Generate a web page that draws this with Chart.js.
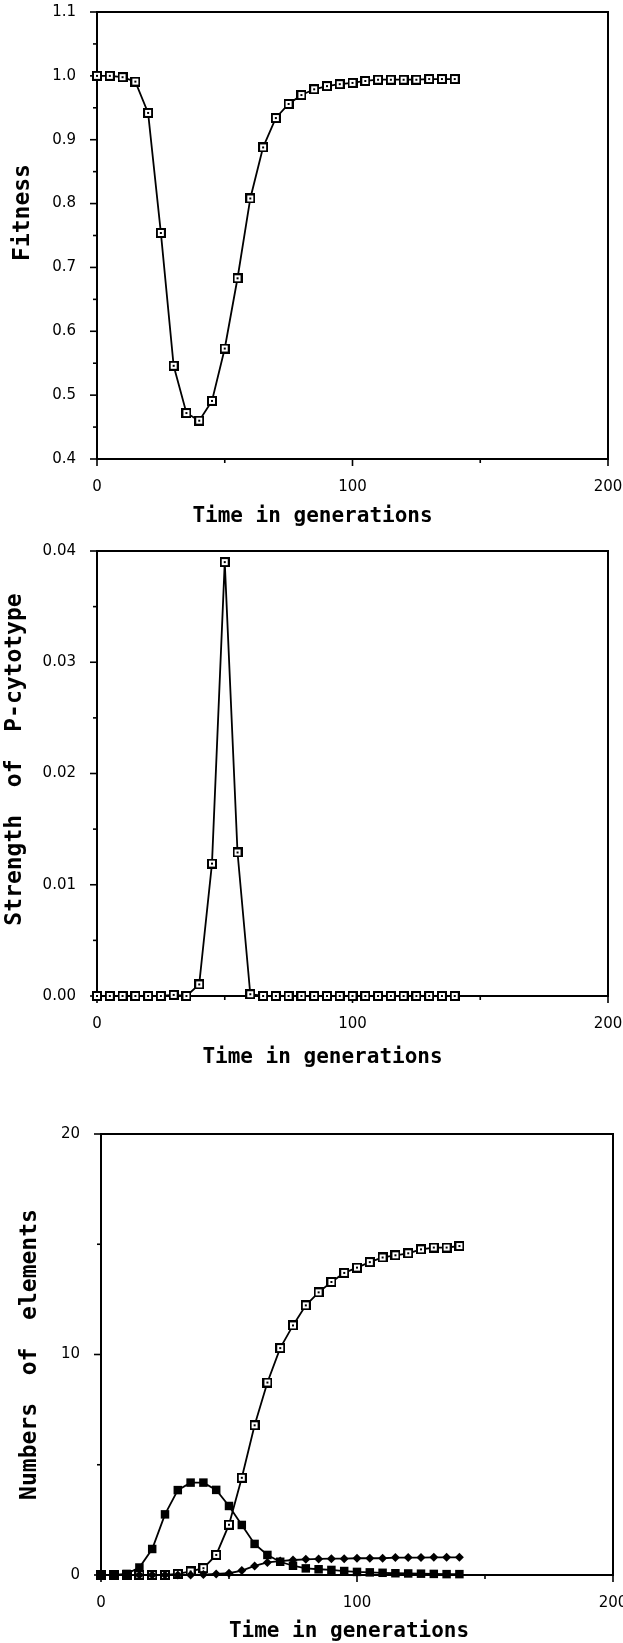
<!DOCTYPE html>
<html>
<head>
<meta charset="utf-8">
<script src="https://cdn.jsdelivr.net/npm/chart.js@4.4.1/dist/chart.umd.min.js"></script>
<style>
  html, body { margin: 0; padding: 0; background: #fff; }
  #page { position: relative; width: 623px; height: 1643px; }
  canvas { position: absolute; left: 0; }
</style>
</head>
<body>
<div id="page">
  <canvas id="fitnessChart" width="623" height="540" style="top:0px"></canvas>
  <canvas id="strengthChart" width="623" height="545" style="top:540px"></canvas>
  <canvas id="elementsChart" width="623" height="558" style="top:1085px"></canvas>
</div>
<script>
// generations sampled every 5
var generations = [0, 5, 10, 15, 20, 25, 30, 35, 40, 45, 50, 55, 60, 65, 70,
  75, 80, 85, 90, 95, 100, 105, 110, 115, 120, 125, 130, 135, 140];

var fitness = [1.000, 1.000, 0.998, 0.991, 0.942, 0.754, 0.546, 0.472, 0.460,
  0.491, 0.573, 0.683, 0.808, 0.888, 0.934, 0.956, 0.970, 0.979, 0.984, 0.987,
  0.989, 0.992, 0.994, 0.994, 0.994, 0.994, 0.995, 0.995, 0.995];

var pStrength = [0, 0, 0, 0, 0, 0, 0.0001, 0, 0.00104, 0.0119, 0.039, 0.0129,
  0.00016, 0, 0, 0, 0, 0, 0, 0, 0, 0, 0, 0, 0, 0, 0, 0, 0];

// panel 3 : open squares, filled squares, diamonds
var elementsOpen = [0, 0, 0, 0, 0, 0, 0.05, 0.16, 0.31, 0.91, 2.28, 4.41,
  6.79, 8.73, 10.29, 11.32, 12.23, 12.82, 13.29, 13.70, 13.94, 14.19, 14.40,
  14.50, 14.59, 14.77, 14.85, 14.85, 14.92];
var elementsFilled = [0, 0, 0.05, 0.34, 1.18, 2.75, 3.85, 4.19, 4.19, 3.86,
  3.13, 2.27, 1.41, 0.91, 0.6, 0.42, 0.3, 0.26, 0.23, 0.18, 0.14, 0.12, 0.1,
  0.08, 0.07, 0.06, 0.05, 0.04, 0.04];
var elementsDiamond = [0, 0, 0, 0, 0, 0, 0, 0, 0.02, 0.05, 0.08, 0.2, 0.41,
  0.57, 0.63, 0.68, 0.71, 0.73, 0.74, 0.74, 0.76, 0.76, 0.76, 0.79, 0.79, 0.79,
  0.8, 0.8, 0.8];

var xTickLabels = [0, 100, 200];

Chart.defaults.font.family = "'DejaVu Sans', sans-serif";
Chart.defaults.color = "#000";

function pairs(values) {
  return generations.map(function (g, i) { return { x: g, y: values[i] }; });
}

// open square with a dot in the middle
var openSquare = document.createElement("canvas");
openSquare.width = 10;
openSquare.height = 10;
(function () {
  var c = openSquare.getContext("2d");
  c.fillStyle = "#fff";
  c.fillRect(0, 0, 10, 10);
  c.strokeStyle = "#000";
  c.lineWidth = 2;
  c.strokeRect(1, 1, 8, 8);
  c.fillStyle = "#000";
  c.fillRect(4, 4, 2, 2);
})();

// frame around the plot + outward tick marks
var axisFrame = {
  id: "axisFrame",
  beforeDatasetsDraw: function (chart) {
    var ctx = chart.ctx;
    var a = chart.chartArea;
    var xs = chart.scales.x;
    var ys = chart.scales.y;
    ctx.save();
    ctx.strokeStyle = "#000";
    ctx.lineWidth = 2;
    ctx.strokeRect(a.left, a.top, a.right - a.left, a.bottom - a.top);
    ctx.lineWidth = 1.6;
    xs.ticks.forEach(function (t) {
      var px = xs.getPixelForValue(t.value);
      var len = t.label !== "" ? 7 : 4;
      ctx.beginPath();
      ctx.moveTo(px, a.bottom);
      ctx.lineTo(px, a.bottom + len);
      ctx.stroke();
    });
    ys.ticks.forEach(function (t) {
      var py = ys.getPixelForValue(t.value);
      var len = t.label !== "" ? 7 : 4;
      ctx.beginPath();
      ctx.moveTo(a.left, py);
      ctx.lineTo(a.left - len, py);
      ctx.stroke();
    });
    ctx.restore();
  }
};

// axis titles (the original figure does not centre them on the plot)
var axisTitles = {
  id: "axisTitles",
  afterDraw: function (chart, args, opts) {
    var ctx = chart.ctx;
    var a = chart.chartArea;
    ctx.save();
    ctx.fillStyle = "#000";
    ctx.textAlign = "center";
    ctx.textBaseline = "middle";
    ctx.font = "bold 21px 'DejaVu Sans Mono', monospace";
    ctx.fillText(opts.xText, (a.left + a.right) / 2 + opts.xShift, opts.xTitleY);
    ctx.font = "bold 23px 'DejaVu Sans Mono', monospace";
    ctx.translate(opts.yTitleX, (a.top + a.bottom) / 2 + opts.yShift);
    ctx.rotate(-Math.PI / 2);
    ctx.fillText(opts.yText, 0, 0);
    ctx.restore();
  }
};

function makeOptions(cfg) {
  return {
    responsive: false,
    animation: false,
    layout: { padding: { top: cfg.padTop, right: cfg.padRight, left: 0, bottom: 0 } },
    plugins: {
      legend: { display: false },
      tooltip: { enabled: false },
      axisTitles: cfg.titles
    },
    scales: {
      x: {
        type: "linear",
        min: 0,
        max: 200,
        grid: { display: false },
        border: { display: false },
        afterFit: function (s) {
          s.height = cfg.xHeight;
          s.paddingLeft = 0;
          s.paddingRight = 0;
        },
        ticks: {
          stepSize: 50,
          padding: 11,
          maxRotation: 0,
          font: { size: 15 },
          callback: function (v) { return xTickLabels.indexOf(v) >= 0 ? String(v) : ""; }
        }
      },
      y: {
        min: cfg.yMin,
        max: cfg.yMax,
        grid: { display: false },
        border: { display: false },
        afterFit: function (s) {
          s.width = cfg.yWidth;
          s.paddingTop = 0;
          s.paddingBottom = 0;
        },
        afterBuildTicks: function (s) {
          s.ticks = cfg.yTicks.map(function (v) { return { value: v }; });
        },
        ticks: {
          padding: 13,
          font: { size: 15 },
          callback: cfg.yLabel
        }
      }
    }
  };
}

function lineSet(values, style, radius) {
  return {
    data: pairs(values),
    borderColor: "#000",
    borderWidth: 1.8,
    backgroundColor: "#000",
    pointStyle: style,
    pointRadius: radius,
    pointBorderColor: "#000",
    pointBackgroundColor: "#000",
    pointBorderWidth: 0,
    tension: 0,
    clip: false
  };
}

// Fitness
var fitnessTicks = [0.4, 0.45, 0.5, 0.55, 0.6, 0.65, 0.7, 0.75, 0.8, 0.85, 0.9, 0.95, 1.0, 1.05, 1.1];
new Chart(document.getElementById("fitnessChart"), {
  type: "line",
  data: { datasets: [lineSet(fitness, openSquare, 5)] },
  options: makeOptions({
    padTop: 12, padRight: 15, xHeight: 81, yWidth: 97,
    yMin: 0.4, yMax: 1.1, yTicks: fitnessTicks,
    yLabel: function (v) { return Math.round(v * 100) % 10 === 0 ? v.toFixed(1) : ""; },
    titles: { xText: "Time in generations", xShift: -40, xTitleY: 517,
              yText: "Fitness", yTitleX: 23, yShift: -23 }
  }),
  plugins: [axisFrame, axisTitles]
});

// Strength of P-cytotype
var strengthTicks = [0, 0.005, 0.01, 0.015, 0.02, 0.025, 0.03, 0.035, 0.04];
new Chart(document.getElementById("strengthChart"), {
  type: "line",
  data: { datasets: [lineSet(pStrength, openSquare, 5)] },
  options: makeOptions({
    padTop: 11, padRight: 15, xHeight: 89, yWidth: 97,
    yMin: 0, yMax: 0.04, yTicks: strengthTicks,
    yLabel: function (v) { return Math.round(v * 1000) % 10 === 0 ? v.toFixed(2) : ""; },
    titles: { xText: "Time in generations", xShift: -30, xTitleY: 518,
              yText: "Strength  of  P-cytotype", yTitleX: 15, yShift: -14 }
  }),
  plugins: [axisFrame, axisTitles]
});

// Numbers of elements
var elementTicks = [0, 5, 10, 15, 20];
new Chart(document.getElementById("elementsChart"), {
  type: "line",
  data: {
    datasets: [
      lineSet(elementsDiamond, "rectRot", 4.5),
      lineSet(elementsFilled, "rect", 6),
      lineSet(elementsOpen, openSquare, 5)
    ]
  },
  options: makeOptions({
    padTop: 49, padRight: 10, xHeight: 68, yWidth: 101,
    yMin: 0, yMax: 20, yTicks: elementTicks,
    yLabel: function (v) { return v % 10 === 0 ? String(v) : ""; },
    titles: { xText: "Time in generations", xShift: -8, xTitleY: 547,
              yText: "Numbers  of  elements", yTitleX: 30, yShift: 0 }
  }),
  plugins: [axisFrame, axisTitles]
});
</script>
</body>
</html>
